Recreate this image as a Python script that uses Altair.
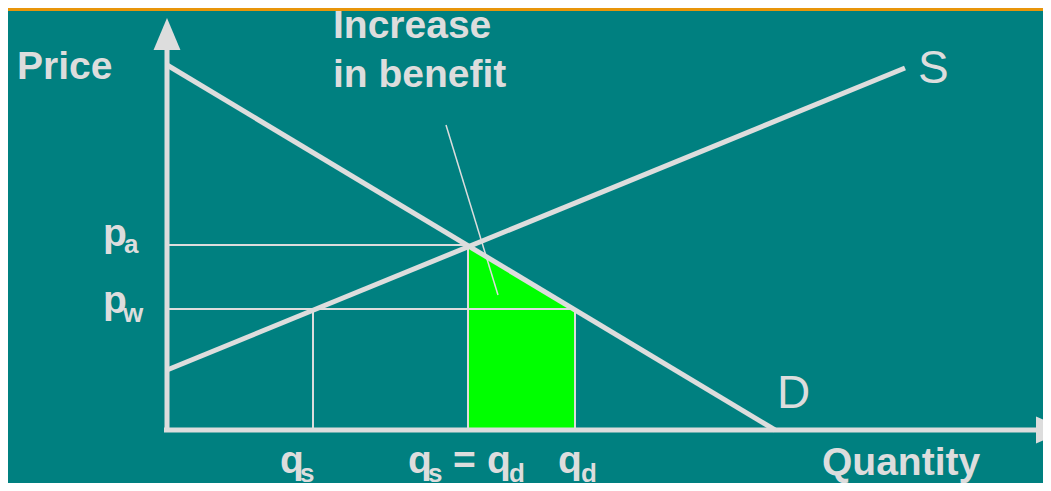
import altair as alt
import pandas as pd

# ---------------- data (diagram units: quantity right, price up) ----------------
BG = "#008080"
LINE = "#DDDDDD"
GREEN = "#00FF00"
ORANGE = "#E8950A"

# demand & supply curves (endpoints)
demand_q = [0, 608]
demand_p = [365, 0]
supply_q = [0, 738]
supply_p = [60, 362]

# key values
p_a = 185     # autarky price
p_w = 121     # world price
q_aut = 301   # autarky quantity (q_s = q_d)
q_s = 146     # domestic supply at world price
q_d = 408     # domestic demand at world price

# axes extents
axis_q_end = 869
axis_p_end = 380

# benefit area (under demand between q_aut and q_d)
area_q = [q_aut, q_d]
area_p = [p_a, p_w]

# annotation pointer
pointer_q = [279, 331]
pointer_p = [305, 135]

XDOM = [-159, 876]
YDOM = [-53, 422]


def X(f):
    return alt.X(f, type="quantitative", scale=alt.Scale(domain=XDOM, nice=False, zero=False), axis=None)


def Y(f):
    return alt.Y(f, type="quantitative", scale=alt.Scale(domain=YDOM, nice=False, zero=False), axis=None)


# ---------------- layers ----------------
area_df = pd.DataFrame({"q": area_q, "p": area_p})
area = alt.Chart(area_df).mark_area(color=GREEN, opacity=1).encode(
    x=X("q"), y=Y("p"), y2=alt.datum(0)
)

thin_df = pd.DataFrame({
    "q": [0, 0, q_s, q_aut, q_d],
    "p": [p_a, p_w, p_w, p_a, p_w],
    "q2": [q_aut, q_d, q_s, q_aut, q_d],
    "p2": [p_a, p_w, 0, 0, 0],
})
thin = alt.Chart(thin_df).mark_rule(color=LINE, strokeWidth=2).encode(
    x=X("q"), y=Y("p"), x2="q2", y2="p2"
)

pointer_df = pd.DataFrame({"q": [pointer_q[0]], "p": [pointer_p[0]],
                           "q2": [pointer_q[1]], "p2": [pointer_p[1]]})
pointer = alt.Chart(pointer_df).mark_rule(color=LINE, strokeWidth=1.5).encode(
    x=X("q"), y=Y("p"), x2="q2", y2="p2"
)

curves_df = pd.DataFrame({
    "q": [demand_q[0], supply_q[0]],
    "p": [demand_p[0], supply_p[0]],
    "q2": [demand_q[1], supply_q[1]],
    "p2": [demand_p[1], supply_p[1]],
})
curves = alt.Chart(curves_df).mark_rule(color=LINE, strokeWidth=5, strokeCap="butt").encode(
    x=X("q"), y=Y("p"), x2="q2", y2="p2"
)

axes_df = pd.DataFrame({
    "q": [0, -3],
    "p": [0, 0],
    "q2": [0, axis_q_end],
    "p2": [axis_p_end, 0],
})
axes = alt.Chart(axes_df).mark_rule(color=LINE, strokeWidth=5, strokeCap="butt").encode(
    x=X("q"), y=Y("p"), x2="q2", y2="p2"
)

heads_df = pd.DataFrame({"q": [0, axis_q_end + 16], "p": [axis_p_end + 16, 0],
                         "ang": [0, 90]})
heads = alt.Chart(heads_df).mark_point(
    shape="M0,-1L0.84,1L-0.84,1Z", filled=True, opacity=1, color=LINE, size=1024, clip=True
).encode(x=X("q"), y=Y("p"), angle=alt.Angle("ang:Q", scale=None))

top_df = pd.DataFrame({"q": [XDOM[0]], "q2": [XDOM[1]], "p": [YDOM[1] - 1.5]})
top = alt.Chart(top_df).mark_rule(color=ORANGE, strokeWidth=3).encode(
    x=X("q"), x2="q2", y=Y("p")
)

# text pieces: (text, q, p, size)
bold_text = ["Price", "Increase", "in benefit",
             "p", "a", "p", "w",
             "q", "s", "q", "s", "=", "q", "d", "q", "d",
             "Quantity"]
bold_q = [-150, 166, 166,
          -64, -43, -64, -44,
          113, 133, 241, 261, 286, 320, 342, 391, 414,
          655]
bold_p = [351, 392, 343,
          184, 177, 117, 108,
          -43, -52, -43, -52, -43, -43, -52, -43, -52,
          -45]
bold_size = [39, 39, 39,
             39, 26, 39, 26,
             39, 26, 39, 26, 39, 39, 26, 39, 26,
             39]
bold_df = pd.DataFrame({"t": bold_text, "q": bold_q, "p": bold_p, "s": bold_size})
bold = alt.Chart(bold_df).mark_text(
    align="left", baseline="alphabetic", font="Liberation Sans", fontWeight="bold", color=LINE
).encode(x=X("q"), y=Y("p"), text="t:N", size=alt.Size("s:Q", scale=None))

reg_df = pd.DataFrame({"t": ["S", "D"], "q": [751, 610], "p": [347, 22], "s": [46, 46]})
reg = alt.Chart(reg_df).mark_text(
    align="left", baseline="alphabetic", font="Liberation Sans", color=LINE
).encode(x=X("q"), y=Y("p"), text="t:N", size=alt.Size("s:Q", scale=None))

chart = alt.layer(area, thin, pointer, curves, axes, heads, top, bold, reg).properties(
    width=1035, height=475,
    autosize=alt.AutoSizeParams(type="none"),
    padding=0,
    background=BG,
).configure_view(stroke=None)

chart.save("out.html", embed_options={"renderer": "svg", "actions": False})
